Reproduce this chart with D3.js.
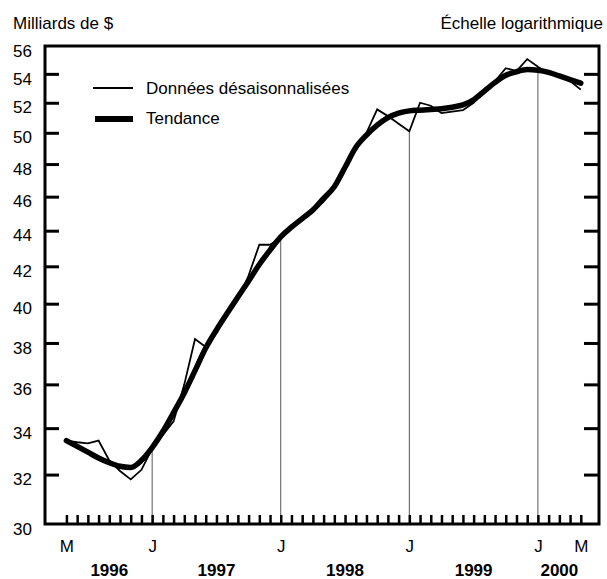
<!DOCTYPE html>
<html lang="fr">
<head>
    <meta charset="UTF-8">
    <title>Milliards de $</title>
    <script type="text/javascript" src="https://cdnjs.cloudflare.com/ajax/libs/d3/7.8.5/d3.min.js"></script>
    <style>
        body { margin: 0; background: #fff; }
        text { font-family: Arial, "Liberation Sans", sans-serif; fill: #000; }
    </style>
</head>
<body>
<div id="chart"></div>
<script>
    // mois de mai 1996 (0) a mai 2000 (48)
    var raw = [
        33.45, 33.38, 33.33, 33.45, 32.6, 32.15, 31.8, 32.2,
        33.1, 33.7, 34.3, 36.0, 38.2, 37.8, 38.6, 39.4, 40.2, 41.5, 43.2, 43.2,
        43.6, 44.2, 44.6, 45.1, 45.7, 46.5, 47.6, 49.2, 50.0, 51.55, 51.1, 50.6,
        50.1, 52.0, 51.8, 51.3, 51.4, 51.5, 52.0, 52.8, 53.5, 54.4, 54.2, 55.05,
        54.5, 54.0, 53.8, 53.5, 52.9
    ];
    var trend = [
        33.45, 33.2, 32.95, 32.7, 32.5, 32.35, 32.3, 32.6,
        33.15, 33.85, 34.7, 35.6, 36.65, 37.75, 38.65, 39.5, 40.35, 41.2, 42.1, 42.9,
        43.65, 44.2, 44.7, 45.2, 45.9, 46.6, 47.8, 49.05, 49.85, 50.5, 51.0, 51.3,
        51.45, 51.5, 51.55, 51.6, 51.7, 51.85, 52.2, 52.8, 53.4, 53.9, 54.15, 54.3,
        54.25, 54.1, 53.85, 53.6, 53.35
    ];
    var yTicks = [30, 32, 34, 36, 38, 40, 42, 44, 46, 48, 50, 52, 54, 56];
    var monthLabels = [[0, "M"], [8, "J"], [20, "J"], [32, "J"], [44, "J"], [48, "M"]];
    var years = [["1996", 0, 8], ["1997", 8, 20], ["1998", 20, 32], ["1999", 32, 44], ["2000", 44, 48]];
    var januaries = [8, 20, 32, 44];

    var width = 607, height = 579;
    var m = {left: 45, right: 599, top: 46, bottom: 524};

    var svg = d3.select("#chart").append("svg")
        .attr("width", width)
        .attr("height", height);

    var x = d3.scaleLinear().domain([-2, 49.7]).range([m.left, m.right]);
    var y = d3.scaleLog().domain([30, 56]).range([m.bottom, m.top]);

    // textes du haut
    svg.append("text").attr("x", 13).attr("y", 29)
        .style("font-size", "17px").text("Milliards de $");
    svg.append("text").attr("x", 603).attr("y", 29)
        .attr("text-anchor", "end")
        .style("font-size", "17px").text("Échelle logarithmique");

    // lignes verticales de janvier
    svg.append("g").selectAll("line")
        .data(januaries)
        .enter().append("line")
        .attr("x1", function(d) { return x(d); })
        .attr("x2", function(d) { return x(d); })
        .attr("y1", m.bottom)
        .attr("y2", function(d) { return y(raw[d]); })
        .attr("stroke", "#555")
        .attr("stroke-width", 1);

    // axe gauche : etiquettes
    var yLabels = svg.append("g")
        .attr("transform", "translate(" + m.left + ",0)")
        .call(d3.axisLeft(y).tickValues(yTicks).tickSize(0).tickPadding(13).tickFormat(d3.format("d")));
    yLabels.select(".domain").remove();
    yLabels.selectAll("text")
        .attr("dy", "0.6em")
        .style("font-size", "17px")
        .style("font-family", "Arial, 'Liberation Sans', sans-serif");

    // graduations interieures gauche et droite
    var inner = yTicks.slice(1, -1);
    var yl = svg.append("g")
        .attr("transform", "translate(" + m.left + ",0)")
        .call(d3.axisLeft(y).tickValues(inner).tickSize(-14).tickFormat(""));
    var yr = svg.append("g")
        .attr("transform", "translate(" + m.right + ",0)")
        .call(d3.axisRight(y).tickValues(inner).tickSize(-15).tickFormat(""));
    [yl, yr].forEach(function(g) {
        g.select(".domain").remove();
        g.selectAll("line").attr("stroke", "#000").attr("stroke-width", 3);
    });

    // graduations mensuelles
    var xt = svg.append("g")
        .attr("transform", "translate(0," + m.bottom + ")")
        .call(d3.axisBottom(x).tickValues(d3.range(0, 49)).tickSize(-9).tickFormat(""));
    xt.select(".domain").remove();
    xt.selectAll("line").attr("stroke", "#000").attr("stroke-width", 2.5);

    // etiquettes des mois
    var xl = svg.append("g")
        .attr("transform", "translate(0," + m.bottom + ")")
        .call(d3.axisBottom(x)
            .tickValues(monthLabels.map(function(d) { return d[0]; }))
            .tickSize(0).tickPadding(0)
            .tickFormat(function(d) { return monthLabels.find(function(e) { return e[0] === d; })[1]; }));
    xl.select(".domain").remove();
    xl.selectAll("text")
        .attr("y", 28).attr("dy", 0)
        .style("font-size", "17px")
        .style("font-family", "Arial, 'Liberation Sans', sans-serif");

    // annees
    svg.append("g").selectAll("text")
        .data(years)
        .enter().append("text")
        .attr("x", function(d) { return x((d[1] + d[2]) / 2); })
        .attr("y", 576)
        .attr("text-anchor", "middle")
        .style("font-size", "17px")
        .style("font-weight", "bold")
        .text(function(d) { return d[0]; });

    // series
    var line = d3.line()
        .x(function(d, i) { return x(i); })
        .y(function(d) { return y(d); });

    svg.append("path")
        .datum(raw)
        .attr("d", line)
        .attr("fill", "none")
        .attr("stroke", "#000")
        .attr("stroke-width", 1.8)
        .attr("stroke-linejoin", "miter");

    svg.append("path")
        .datum(trend)
        .attr("d", line.curve(d3.curveMonotoneX))
        .attr("fill", "none")
        .attr("stroke", "#000")
        .attr("stroke-width", 5.5)
        .attr("stroke-linecap", "round")
        .attr("stroke-linejoin", "round");

    // cadre
    svg.append("rect")
        .attr("x", m.left).attr("y", m.top)
        .attr("width", m.right - m.left).attr("height", m.bottom - m.top)
        .attr("fill", "none")
        .attr("stroke", "#000")
        .attr("stroke-width", 3);

    // legende
    var legend = svg.append("g");
    legend.append("line")
        .attr("x1", 93).attr("x2", 133).attr("y1", 88).attr("y2", 88)
        .attr("stroke", "#000").attr("stroke-width", 2);
    legend.append("text").attr("x", 146).attr("y", 94)
        .style("font-size", "17px").text("Données désaisonnalisées");
    legend.append("line")
        .attr("x1", 95).attr("x2", 133).attr("y1", 119).attr("y2", 119)
        .attr("stroke", "#000").attr("stroke-width", 6);
    legend.append("text").attr("x", 146).attr("y", 124)
        .style("font-size", "17px").text("Tendance");
</script>
</body>
</html>
